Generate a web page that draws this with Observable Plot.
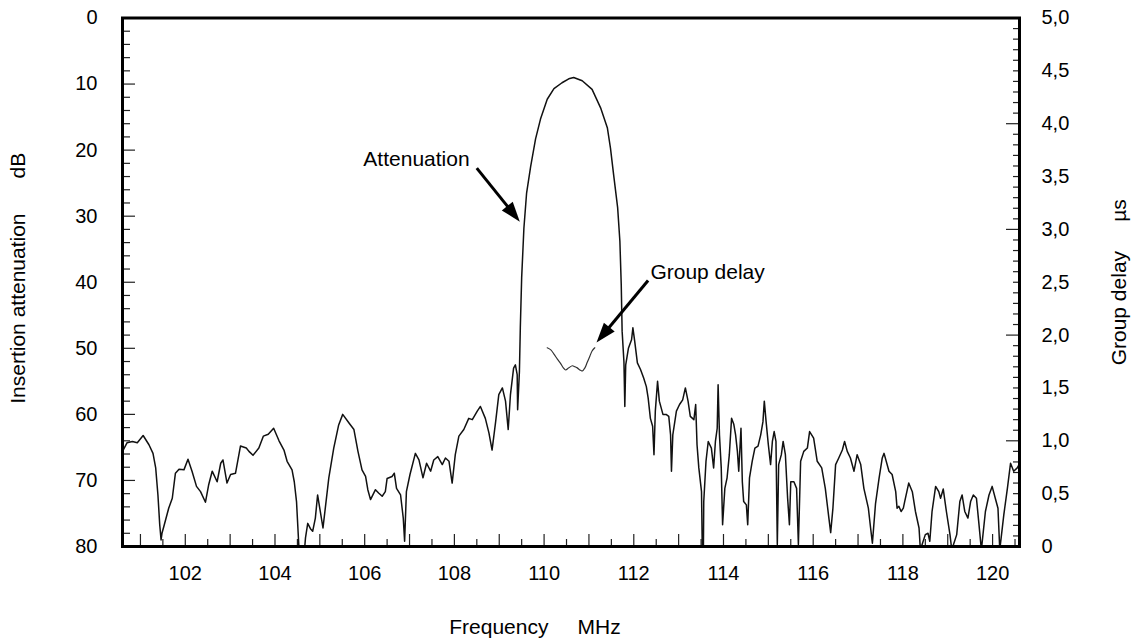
<!DOCTYPE html>
<html>
<head>
<meta charset="utf-8">
<script src="https://cdn.jsdelivr.net/npm/d3@7"></script>
<script src="https://cdn.jsdelivr.net/npm/@observablehq/plot@0.6"></script>
<style>
  html, body { margin: 0; padding: 0; background: #fff; }
  #chart svg { display: block; }
</style>
</head>
<body>
<div id="chart"></div>
<script>
// Insertion attenuation of the SAW filter: [frequency MHz, attenuation dB]
const attenuation = [
  [100.60, 65.6], [100.70, 64.3], [100.82, 64.1], [100.93, 64.3], [101.06, 63.2],
  [101.19, 64.6], [101.28, 65.9], [101.34, 68.1], [101.39, 72.2], [101.43, 76.7],
  [101.46, 79.0], [101.48, 78.0], [101.52, 77.0], [101.63, 74.2], [101.71, 72.7],
  [101.78, 68.9], [101.86, 68.3], [101.97, 68.4], [102.06, 66.8], [102.15, 68.6],
  [102.25, 70.9], [102.34, 71.7], [102.45, 73.3], [102.52, 70.7], [102.60, 68.6],
  [102.71, 70.2], [102.79, 67.4], [102.84, 66.9], [102.93, 70.4], [103.01, 69.1],
  [103.12, 68.9], [103.23, 64.8], [103.36, 65.1], [103.42, 65.6], [103.51, 66.2],
  [103.64, 65.1], [103.74, 63.3], [103.85, 63.0], [103.97, 62.1], [104.09, 64.0],
  [104.20, 65.4], [104.27, 67.1], [104.38, 68.4], [104.43, 70.2], [104.48, 73.2],
  [104.53, 79.7], [104.57, 82.0], [104.64, 82.0], [104.68, 78.7], [104.73, 76.5],
  [104.79, 77.3], [104.84, 77.7], [104.90, 75.7], [104.95, 72.2], [105.01, 74.7],
  [105.07, 77.2], [105.13, 73.7], [105.20, 69.6], [105.31, 65.1], [105.42, 61.6],
  [105.51, 60.0], [105.65, 61.3], [105.76, 62.3], [105.85, 65.6], [105.94, 68.4],
  [106.02, 69.4], [106.07, 71.4], [106.13, 72.9], [106.24, 71.4], [106.31, 71.9],
  [106.39, 72.4], [106.46, 71.7], [106.50, 69.7], [106.61, 69.4], [106.66, 68.9],
  [106.71, 71.2], [106.80, 72.2], [106.86, 75.7], [106.89, 79.2], [106.93, 71.7],
  [107.01, 69.1], [107.13, 65.9], [107.21, 66.9], [107.30, 69.6], [107.38, 67.4],
  [107.47, 68.6], [107.54, 66.9], [107.63, 66.4], [107.73, 67.6], [107.80, 66.6],
  [107.88, 67.1], [107.95, 70.4], [108.02, 66.1], [108.10, 63.3], [108.21, 62.3],
  [108.32, 60.6], [108.40, 60.8], [108.51, 59.5], [108.58, 58.8], [108.69, 60.6],
  [108.77, 62.8], [108.84, 65.4], [108.92, 61.1], [108.99, 57.0], [109.07, 56.0],
  [109.14, 58.0], [109.20, 62.3], [109.25, 57.0], [109.32, 53.0], [109.36, 52.5],
  [109.40, 54.0], [109.41, 59.3], [109.45, 53.5], [109.47, 46.9], [109.50, 39.3],
  [109.55, 31.8], [109.61, 26.5], [109.70, 22.5], [109.81, 18.3], [109.92, 15.3],
  [110.07, 12.3], [110.22, 10.7], [110.40, 9.8], [110.55, 9.2], [110.66, 9.0],
  [110.85, 9.5], [111.07, 10.8], [111.26, 13.6], [111.41, 16.6], [111.48, 19.7],
  [111.55, 23.7], [111.64, 28.7], [111.69, 33.8], [111.72, 40.3], [111.74, 47.4],
  [111.78, 52.0], [111.80, 58.8], [111.82, 52.5], [111.88, 50.0], [111.95, 48.7],
  [111.98, 46.9], [112.02, 48.9], [112.08, 52.2], [112.15, 53.2], [112.22, 54.5],
  [112.28, 55.8], [112.32, 57.5], [112.37, 60.6], [112.42, 61.8], [112.45, 66.1],
  [112.48, 59.5], [112.53, 55.0], [112.57, 58.0], [112.65, 60.0], [112.72, 60.0],
  [112.78, 60.3], [112.82, 63.1], [112.84, 68.6], [112.87, 63.1], [112.95, 59.5],
  [113.02, 58.5], [113.09, 57.8], [113.15, 56.0], [113.21, 58.0], [113.26, 60.3],
  [113.34, 60.8], [113.38, 58.5], [113.41, 64.6], [113.45, 68.1], [113.51, 71.7],
  [113.53, 82.0], [113.55, 82.0], [113.56, 73.2], [113.61, 67.1], [113.66, 64.1],
  [113.73, 65.1], [113.78, 68.1], [113.82, 64.1], [113.86, 62.1], [113.88, 55.5],
  [113.91, 63.1], [113.95, 68.1], [113.98, 76.7], [114.03, 71.2], [114.08, 69.6],
  [114.13, 66.1], [114.18, 60.6], [114.23, 61.5], [114.27, 63.1], [114.31, 65.6],
  [114.34, 68.6], [114.39, 62.1], [114.42, 70.2], [114.45, 73.2], [114.51, 73.7],
  [114.54, 76.7], [114.58, 69.6], [114.64, 67.1], [114.70, 65.1], [114.77, 64.8],
  [114.83, 63.1], [114.88, 61.1], [114.91, 58.0], [114.95, 61.1], [115.00, 64.6],
  [115.05, 67.6], [115.09, 64.1], [115.13, 62.6], [115.17, 64.1], [115.20, 79.7],
  [115.23, 67.6], [115.29, 66.1], [115.33, 64.1], [115.38, 66.1], [115.43, 72.7],
  [115.47, 76.7], [115.50, 70.2], [115.57, 70.2], [115.63, 71.2], [115.67, 79.7],
  [115.72, 67.1], [115.79, 65.6], [115.87, 65.1], [115.92, 62.6], [116.01, 63.6],
  [116.09, 67.1], [116.19, 68.1], [116.27, 71.2], [116.35, 75.7], [116.39, 77.9],
  [116.44, 74.2], [116.50, 67.6], [116.57, 66.6], [116.65, 65.4], [116.70, 64.1],
  [116.76, 65.6], [116.83, 66.6], [116.91, 68.6], [116.98, 66.1], [117.06, 67.6],
  [117.13, 71.2], [117.23, 74.2], [117.28, 77.2], [117.32, 79.5], [117.39, 73.5],
  [117.47, 69.6], [117.54, 66.6], [117.58, 65.9], [117.69, 68.6], [117.76, 69.1],
  [117.84, 71.7], [117.87, 74.2], [117.91, 73.9], [117.96, 74.7], [118.01, 74.2],
  [118.04, 73.2], [118.13, 70.4], [118.21, 71.7], [118.28, 74.7], [118.36, 77.2],
  [118.39, 80.5], [118.50, 78.2], [118.56, 78.0], [118.60, 79.2], [118.65, 74.7],
  [118.73, 70.9], [118.80, 71.7], [118.84, 72.7], [118.90, 71.3], [118.97, 74.7],
  [119.05, 78.2], [119.09, 80.5], [119.20, 78.2], [119.27, 73.2], [119.32, 72.2],
  [119.38, 74.7], [119.45, 75.7], [119.51, 73.2], [119.57, 72.2], [119.64, 72.7],
  [119.69, 76.2], [119.75, 80.5], [119.84, 74.7], [119.92, 72.2], [119.99, 70.9],
  [120.06, 72.7], [120.12, 74.2], [120.16, 80.5], [120.25, 75.2], [120.33, 71.2],
  [120.40, 67.4], [120.47, 68.6], [120.55, 68.1], [120.60, 67.5]
];

// Group delay in the passband: [frequency MHz, delay µs]
const groupDelay = [
  [110.07, 1.88], [110.15, 1.86], [110.22, 1.82], [110.30, 1.77], [110.37, 1.73],
  [110.43, 1.69], [110.48, 1.67], [110.55, 1.69], [110.63, 1.71], [110.69, 1.70],
  [110.74, 1.69], [110.80, 1.67], [110.85, 1.66], [110.91, 1.69], [110.96, 1.74],
  [111.02, 1.80], [111.07, 1.85], [111.13, 1.88]
];

// Axis ticks
const freqTicks = [102, 104, 106, 108, 110, 112, 114, 116, 118, 120];
const dbTicks = [0, 10, 20, 30, 40, 50, 60, 70, 80];
const delayTicks = [0, 0.5, 1, 1.5, 2, 2.5, 3, 3.5, 4, 4.5, 5];

// Annotations: label text and arrow [from, to] in (MHz, dB)
const labels = [
  {text: "Attenuation", f: 105.97, db: 21.4},
  {text: "Group delay", f: 112.37, db: 38.5}
];
const arrows = [
  {f1: 108.51, db1: 22.8, f2: 109.47, db2: 30.9},
  {f1: 112.33, db1: 39.8, f2: 111.18, db2: 49.2}
];

const W = 1136, H = 640;
const mL = 122, mR = 117, mT = 17.5, mB = 94;
const innerW = W - mL - mR;
const innerH = H - mT - mB;

// the delay scale (0–5 µs, bottom to top) shares the frame with 0–80 dB (top to bottom)
const toDb = us => 80 - us * 16;
const fmtDelay = d => {
  const us = (80 - d) / 16;
  return Math.abs(us) < 1e-9 ? "0" : us.toFixed(1).replace(".", ",");
};

const FONT = "'Liberation Sans', Arial, Helvetica, sans-serif";
const nb = n => "\u00a0".repeat(n);

const range = (a, b, s) => d3.range(0, Math.round((b - a) / s) + 1).map(i => +(a + i * s).toFixed(4));
const xMinor = range(100.5, 120.5, 0.5).filter(v => v > 100.6 && v < 120.6);
const xLong = xMinor.filter(v => Number.isInteger(v));
const xShort = xMinor.filter(v => !Number.isInteger(v));
const yLeft = range(0, 80, 2);
const yLeftLong = yLeft.filter(v => v % 10 === 0);
const yLeftShort = yLeft.filter(v => v % 10 !== 0);
const yRight = range(0, 5, 0.1);
const yRightLong = yRight.filter(v => Math.abs(v - Math.round(v)) < 1e-6);
const yRightShort = yRight.filter(v => Math.abs(v - Math.round(v)) >= 1e-6);

function drawArrows(index, scales) {
  const g = d3.create("svg:g");
  for (const a of arrows) {
    const x1 = scales.x(a.f1), y1 = scales.y(a.db1);
    const x2 = scales.x(a.f2), y2 = scales.y(a.db2);
    const ang = Math.atan2(y2 - y1, x2 - x1);
    const hl = 20, hw = 7;
    const c = Math.cos(ang), s = Math.sin(ang);
    const bx = x2 - hl * c, by = y2 - hl * s;
    g.append("line")
      .attr("x1", x1).attr("y1", y1).attr("x2", bx + 2 * c).attr("y2", by + 2 * s)
      .attr("stroke", "#000").attr("stroke-width", 3);
    g.append("path")
      .attr("d", `M${x2},${y2}L${bx - hw * s},${by + hw * c}L${bx + hw * s},${by - hw * c}Z`)
      .attr("fill", "#000");
  }
  return g.node();
}

const chart = Plot.plot({
  width: W,
  height: H,
  marginLeft: mL,
  marginRight: mR,
  marginTop: mT,
  marginBottom: mB,
  style: {fontFamily: FONT, fontSize: "20px", color: "#000", background: "#fff"},
  x: {domain: [100.6, 120.6], axis: null},
  y: {domain: [0, 80], reverse: true, axis: null},
  marks: [
    // inward tick marks
    Plot.tickX(xLong, {x: d => d, insetTop: innerH - 12, stroke: "#222", strokeWidth: 1.2}),
    Plot.tickX(xShort, {x: d => d, insetTop: innerH - 7, stroke: "#222", strokeWidth: 1.2}),
    Plot.tickY(yLeftLong, {y: d => d, insetRight: innerW - 13, stroke: "#222", strokeWidth: 1.2}),
    Plot.tickY(yLeftShort, {y: d => d, insetRight: innerW - 8, stroke: "#222", strokeWidth: 1.2}),
    Plot.tickY(yRightLong, {y: toDb, insetLeft: innerW - 13, stroke: "#222", strokeWidth: 1.2}),
    Plot.tickY(yRightShort, {y: toDb, insetLeft: innerW - 6, stroke: "#222", strokeWidth: 1.2}),

    // tick labels
    Plot.axisX(freqTicks, {anchor: "bottom", tickSize: 0, tickPadding: 19, label: null, fontSize: 20, tickFormat: d => String(d)}),
    Plot.axisY(dbTicks, {anchor: "left", tickSize: 0, tickPadding: 25, label: null, fontSize: 20, tickFormat: d => String(d)}),
    Plot.axisY(delayTicks.map(toDb), {anchor: "right", tickSize: 0, tickPadding: 22, label: null, fontSize: 20, tickFormat: fmtDelay}),

    // axis titles
    Plot.text([`Frequency${nb(5)}MHz`], {frameAnchor: "bottom", dx: -36, dy: 80.5, fontSize: 21, textAnchor: "middle", lineAnchor: "middle"}),
    Plot.text([`Insertion attenuation${nb(6)}dB`], {frameAnchor: "left", dx: -104, dy: -4, rotate: -90, fontSize: 21, textAnchor: "middle", lineAnchor: "middle"}),
    Plot.text([`Group delay${nb(5)}\u00b5s`], {frameAnchor: "right", dx: 100, dy: 0, rotate: -90, fontSize: 21, textAnchor: "middle", lineAnchor: "middle"}),

    // curves
    Plot.line(groupDelay, {x: d => d[0], y: d => toDb(d[1]), stroke: "#333", strokeWidth: 1.2, curve: "catmull-rom"}),
    Plot.line(attenuation, {x: d => d[0], y: d => d[1], stroke: "#111", strokeWidth: 1.5, clip: true, strokeLinejoin: "round"}),

    // annotations
    Plot.text(labels, {x: d => d.f, y: d => d.db, text: d => d.text, textAnchor: "start", lineAnchor: "middle", fontSize: 21}),
    drawArrows,

    Plot.frame({stroke: "#000", strokeWidth: 3})
  ]
});

document.getElementById("chart").appendChild(chart);
</script>
</body>
</html>
